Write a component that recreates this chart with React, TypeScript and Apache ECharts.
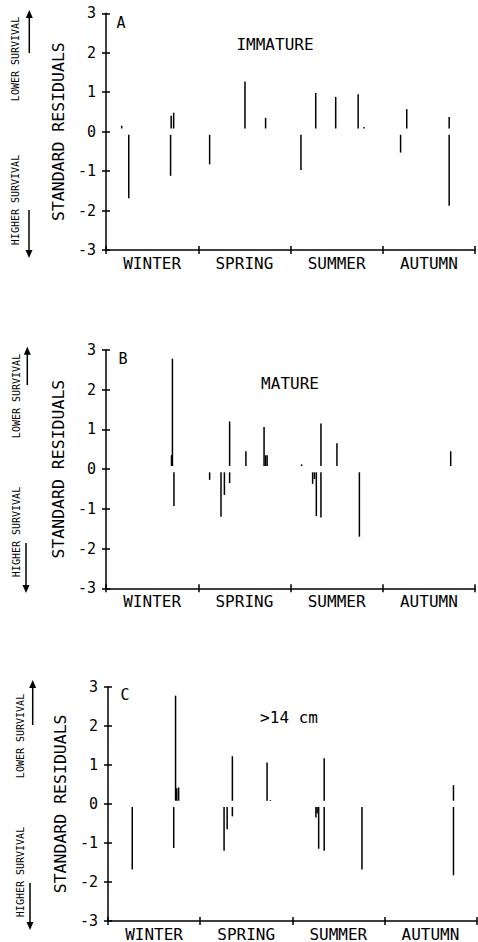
import React, { useEffect, useRef } from "react";
import * as echarts from "echarts";

// x = position within the year in months (0 = start of winter, 12 = end of autumn)
const seasons = ["WINTER", "SPRING", "SUMMER", "AUTUMN"];
const yTicks = [-3, -2, -1, 0, 1, 2, 3];

const immatureX = [0.51, 0.74, 2.1, 2.12, 2.2, 3.37, 4.52, 5.19, 6.34, 6.82, 7.47, 8.2, 8.39, 9.58, 9.78, 11.16, 11.16];
const immatureY = [0.15, -1.69, -1.12, 0.4, 0.48, -0.83, 1.27, 0.35, -0.97, 0.98, 0.88, 0.95, 0.12, -0.53, 0.57, 0.37, -1.88];

const matureX = [2.13, 2.16, 2.21, 3.37, 3.74, 3.85, 4.02, 4.02, 4.55, 5.14, 5.19, 5.24, 6.36, 6.72, 6.78, 6.84, 6.99, 6.99, 7.51, 8.24, 11.21];
const matureY = [0.35, 2.78, -0.93, -0.27, -1.2, -0.65, -0.35, 1.2, 0.45, 1.06, 0.35, 0.35, 0.12, -0.37, -0.25, -1.18, 1.15, -1.22, 0.65, -1.7, 0.45];

const largeX = [0.79, 2.14, 2.2, 2.24, 2.3, 3.78, 3.88, 4.05, 4.05, 5.18, 5.29, 6.77, 6.81, 6.86, 7.04, 7.04, 8.27, 11.25, 11.25];
const largeY = [-1.68, -1.13, 2.77, 0.4, 0.42, -1.2, -0.65, -0.32, 1.22, 1.06, 0.1, -0.35, -0.25, -1.15, 1.17, -1.2, -1.68, 0.48, -1.83];

const panelLetters = ["A", "B", "C"];
const panelTitles = ["IMMATURE", "MATURE", ">14 cm"];
const yName = "STANDARD RESIDUALS";
const lowerText = "LOWER SURVIVAL";
const higherText = "HIGHER SURVIVAL";

const FONT = "DejaVu Sans Mono";
const GAP = 0.08;

const grids = [
  { left: 106, top: 13.3, width: 369, height: 236.7 },
  { left: 106, top: 350, width: 369, height: 238.3 },
  { left: 108, top: 686.7, width: 368.5, height: 236.6 },
];

const sideDeco = [
  { lowX: 15, lowY: 59, upX: 29.3, upTop: 10, upBot: 53, highX: 15, highY: 200, dnX: 29, dnTop: 210, dnBot: 258 },
  { lowX: 16, lowY: 396, upX: 27.3, upTop: 346.7, upBot: 385, highX: 16, highY: 532, dnX: 26, dnTop: 543, dnBot: 593 },
  { lowX: 20.7, lowY: 736, upX: 32.7, upTop: 680, upBot: 725, highX: 20, highY: 872, dnX: 30, dnTop: 883, dnBot: 930 },
];

const letterPos = [
  { lx: 121, ly: 23, tx: 275, ty: 44 },
  { lx: 123, ly: 359, tx: 290, ty: 383 },
  { lx: 125, ly: 695, tx: 289, ty: 717 },
];

export default function App() {
  const ref = useRef<HTMLDivElement>(null);
  useEffect(() => {
    if (!ref.current) return;
    const chart = echarts.init(ref.current, null, { renderer: "svg" });
    const datasets = [
      [immatureX, immatureY],
      [matureX, matureY],
      [largeX, largeY],
    ];
    const xAxes: any[] = [];
    const yAxes: any[] = [];
    const series: any[] = [];
    const graphic: any[] = [];
    grids.forEach((g, i) => {
      xAxes.push({
        type: "value", gridIndex: i, min: 0, max: 12, interval: 3, position: "bottom",
        axisLine: { show: true, onZero: false, lineStyle: { color: "#000", width: 1.5 } },
        axisTick: { show: true, length: 4, lineStyle: { color: "#000", width: 1.5 } },
        axisLabel: { show: false }, splitLine: { show: false },
      });
      xAxes.push({
        type: "value", gridIndex: i, min: 0, max: 12, interval: 3, position: "bottom",
        axisLine: { show: false, onZero: false },
        axisTick: { show: true, inside: true, length: 4, lineStyle: { color: "#000", width: 1.5 } },
        axisLabel: { show: false }, splitLine: { show: false },
      });
      xAxes.push({
        type: "category", gridIndex: i, data: seasons, position: "bottom", boundaryGap: true,
        axisLine: { show: false }, axisTick: { show: false },
        axisLabel: { show: true, margin: 5, color: "#000", fontFamily: FONT, fontSize: 16 },
        splitLine: { show: false },
      });
      yAxes.push({
        type: "value", gridIndex: i, min: -3, max: 3, interval: 1, position: "left",
        axisLine: { show: true, onZero: false, lineStyle: { color: "#000", width: 1.5 } },
        axisTick: { show: true, length: 4, lineStyle: { color: "#000", width: 1.5 } },
        axisLabel: { show: true, margin: 10, color: "#000", fontFamily: FONT, fontSize: 15,
          formatter: (v: number) => (yTicks.includes(v) ? String(v) : "") },
        splitLine: { show: false },
        name: yName, nameLocation: "middle", nameRotate: 90, nameGap: 36,
        nameTextStyle: { color: "#000", fontFamily: FONT, fontSize: 16.5 },
      });
      yAxes.push({
        type: "value", gridIndex: i, min: -3, max: 3, interval: 1, position: "left",
        axisLine: { show: false, onZero: false },
        axisTick: { show: true, inside: true, length: 4, lineStyle: { color: "#000", width: 1.5 } },
        axisLabel: { show: false }, splitLine: { show: false },
      });
      const [xs, ys] = datasets[i];
      series.push({
        type: "custom",
        xAxisIndex: 3 * i,
        yAxisIndex: 2 * i,
        encode: { x: 0, y: [1, 2] },
        data: xs.map((x, k) => [x, ys[k] >= 0 ? GAP : -GAP, ys[k]]),
        renderItem: (params: any, api: any) => {
          const p0 = api.coord([api.value(0), api.value(1)]);
          const p1 = api.coord([api.value(0), api.value(2)]);
          return {
            type: "line",
            shape: { x1: p0[0], y1: p0[1], x2: p1[0], y2: p1[1] },
            style: { stroke: "#000", lineWidth: 1.5 },
          };
        },
      });
      const d = sideDeco[i];
      const lp = letterPos[i];
      graphic.push(
        { type: "text", x: lp.lx, y: lp.ly, style: { text: panelLetters[i], fontFamily: FONT, fontSize: 15, fill: "#000", align: "center", verticalAlign: "middle" } },
        { type: "text", x: lp.tx, y: lp.ty, style: { text: panelTitles[i], fontFamily: FONT, fontSize: 16, fill: "#000", align: "center", verticalAlign: "middle" } },
        { type: "text", x: d.lowX, y: d.lowY, rotation: Math.PI / 2, style: { text: lowerText, fontFamily: FONT, fontSize: 10, fill: "#000", align: "center", verticalAlign: "middle" } },
        { type: "text", x: d.highX, y: d.highY, rotation: Math.PI / 2, style: { text: higherText, fontFamily: FONT, fontSize: 10, fill: "#000", align: "center", verticalAlign: "middle" } },
        { type: "line", shape: { x1: d.upX, y1: d.upTop + 6, x2: d.upX, y2: d.upBot }, style: { stroke: "#000", lineWidth: 1.5 } },
        { type: "polygon", shape: { points: [[d.upX, d.upTop], [d.upX - 3.5, d.upTop + 8], [d.upX + 3.5, d.upTop + 8]] }, style: { fill: "#000" } },
        { type: "line", shape: { x1: d.dnX, y1: d.dnTop, x2: d.dnX, y2: d.dnBot - 6 }, style: { stroke: "#000", lineWidth: 1.5 } },
        { type: "polygon", shape: { points: [[d.dnX, d.dnBot], [d.dnX - 3.5, d.dnBot - 8], [d.dnX + 3.5, d.dnBot - 8]] }, style: { fill: "#000" } },
      );
    });
    chart.setOption({
      animation: false,
      backgroundColor: "#fff",
      grid: grids.map((g) => ({ ...g, containLabel: false })),
      xAxis: xAxes,
      yAxis: yAxes,
      series,
      graphic,
    });
    return () => chart.dispose();
  }, []);
  return <div ref={ref} style={{ position: "absolute", left: 0, top: 0, width: 478, height: 942 }} />;
}
